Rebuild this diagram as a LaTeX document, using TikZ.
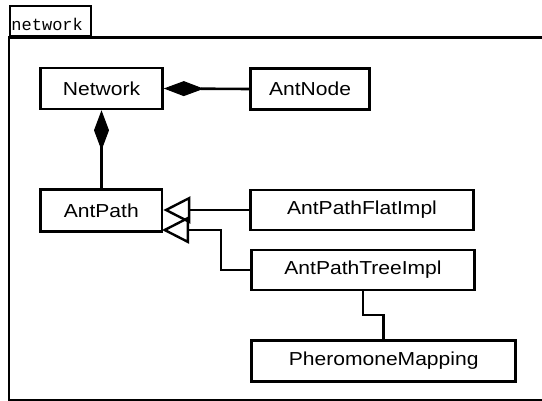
\documentclass[tikz,border=0pt]{standalone}
\usepackage{fontspec}
\setmainfont{Liberation Sans}[FakeStretch=1.12]
\newfontfamily\codefont{Liberation Mono}
\usetikzlibrary{arrows.meta}

\begin{document}
\begin{tikzpicture}[x=1pt, y=-1pt,
  cls/.style={draw, line width=2.6pt, rectangle, inner sep=0pt,
              font=\fontsize{18.8}{20}\selectfont},
  link/.style={line width=2.6pt},
  comp/.style={link, {Diamond[length=40pt 0, width=15pt 0, line width=1pt 0]}-},
  gen/.style={link, -{Triangle[open, length=27pt 0, width=27pt 0, line width=2.4pt 0]}},
  framebox/.style={draw, line width=2.6pt},
  tabbox/.style={draw, line width=2pt, inner sep=0pt, anchor=south west},
  tabtext/.style={inner sep=0pt, anchor=base west, font=\codefont\fontsize{17}{18}\selectfont}
]
\useasboundingbox (0,0) rectangle (542,401);

% package frame with its name tab
\draw[framebox] (9,37.5) rectangle (600,400);
\node[tabbox, minimum width=81pt, minimum height=30pt] (tab) at (9,37.5) {};
\node[tabtext] (tablabel) at (11.3,30.7) {network};

% classes
\node[cls, minimum width=122pt, minimum height=41pt] (net) at (101.5,88.5) {Network};
\node[cls, minimum width=119pt, minimum height=41pt] (antnode) at (310,89) {AntNode};
\node[cls, minimum width=121.5pt, minimum height=41.5pt] (path) at (101.3,210.5) {AntPath};
\node[cls, minimum width=223pt, minimum height=40pt] (flat) at (362,210) {AntPathFlatImpl};
\node[cls, minimum width=223pt, minimum height=40pt] (tree) at (363,270) {AntPathTreeImpl};
\node[cls, minimum width=264pt, minimum height=41.2pt] (pher) at (383.7,361.1) {PheromoneMapping};

% compositions
\draw[comp] (net.east) -- (antnode.west);
\draw[comp] (net.south) -- (net.south |- path.north);

% generalizations
\coordinate (tip2) at (162,230);
\coordinate (elbow) at (221,230);
\draw[gen] (flat.west) -- (path.east |- flat.west);
\draw[gen] (tree.west) -| (elbow) -- (tip2);

% association
\coordinate (jog) at (373,315);
\draw[link] (tree.south) |- (jog) -| (pher.north);
\end{tikzpicture}
\end{document}
